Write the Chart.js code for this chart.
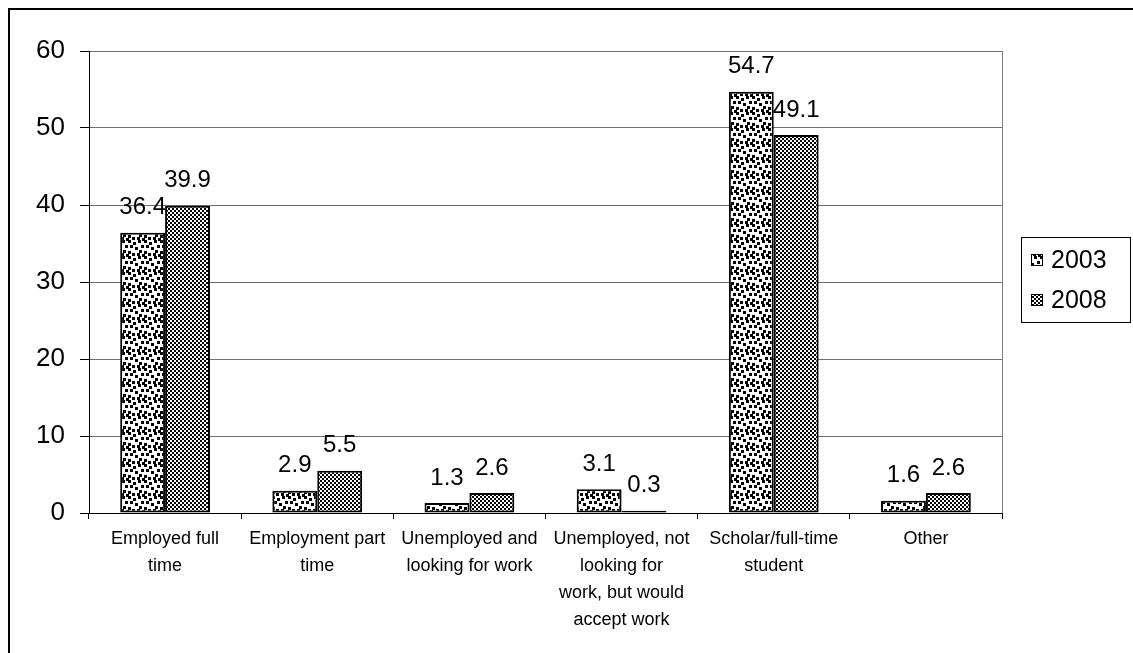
<!DOCTYPE html>
<html>
<head>
<meta charset="utf-8">
<script src="https://cdn.jsdelivr.net/npm/chart.js@4"></script>
<style>
  html, body { margin: 0; padding: 0; background: #fff; }
  #wrap { width: 1133px; height: 653px; position: relative; }
</style>
</head>
<body>
<div id="wrap"><canvas id="c" width="1133" height="653"></canvas></div>
<script>
// Activity status of respondents, percent
const categories = [
  ['Employed full', 'time'],
  ['Employment part', 'time'],
  ['Unemployed and', 'looking for work'],
  ['Unemployed, not', 'looking for', 'work, but would', 'accept work'],
  ['Scholar/full-time', 'student'],
  ['Other']
];
const seriesNames = ['2003', '2008'];
const values2003 = [36.4, 2.9, 1.3, 3.1, 54.7, 1.6];
const values2008 = [39.9, 5.5, 2.6, 0.3, 49.1, 2.6];
const yTicks = [0, 10, 20, 30, 40, 50, 60];

const FONT = '"Liberation Sans", Arial, sans-serif';

// Scattered-dot fill
function dotPattern() {
  const t = document.createElement('canvas');
  t.width = 16; t.height = 16;
  const g = t.getContext('2d');
  g.fillStyle = '#fff'; g.fillRect(0, 0, 16, 16);
  g.fillStyle = '#000';
  const dots = [[0,0],[5,2],[10,0],[13,5],[2,5],[7,7],[11,10],[0,11],[4,13],[9,13],[14,14]];
  dots.forEach(([x, y]) => {
    // draw each dot with wrap-around so the tile repeats seamlessly
    for (const ox of [0, -16])
      for (const oy of [0, -16])
        g.fillRect(x + ox, y + oy, 3, 3);
  });
  return g.createPattern(t, 'repeat');
}
// Small checkerboard fill
function checkPattern() {
  const t = document.createElement('canvas');
  t.width = 4; t.height = 4;
  const g = t.getContext('2d');
  g.fillStyle = '#fff'; g.fillRect(0, 0, 4, 4);
  g.fillStyle = '#000';
  g.fillRect(0, 0, 2, 2);
  g.fillRect(2, 2, 2, 2);
  return g.createPattern(t, 'repeat');
}

const fills = [dotPattern(), checkPattern()];

// Value labels above bars, plot frame, legend box and outer frame
const decorations = {
  id: 'decorations',
  afterDatasetsDraw(chart) {
    const ctx = chart.ctx;
    const a = chart.chartArea;
    ctx.save();
    // plot area right border
    ctx.strokeStyle = '#808080';
    ctx.lineWidth = 1;
    ctx.beginPath();
    ctx.moveTo(Math.round(a.right) + 0.5, a.top);
    ctx.lineTo(Math.round(a.right) + 0.5, a.bottom);
    ctx.stroke();
    // value labels
    ctx.fillStyle = '#000';
    ctx.font = '24px ' + FONT;
    ctx.textAlign = 'center';
    ctx.textBaseline = 'middle';
    chart.data.datasets.forEach((ds, i) => {
      chart.getDatasetMeta(i).data.forEach((bar, j) => {
        ctx.fillText(String(ds.data[j]), bar.x, bar.y - 25);
      });
    });
    // legend
    const lx = 1021, ly = 237, lw = 109, lh = 85;
    ctx.strokeStyle = '#000';
    ctx.lineWidth = 1;
    ctx.strokeRect(lx + 0.5, ly + 0.5, lw, lh);
    ctx.textAlign = 'left';
    ctx.font = '25px ' + FONT;
    chart.data.datasets.forEach((ds, i) => {
      const cy = 260 + i * 40;
      ctx.fillStyle = ds.backgroundColor;
      ctx.fillRect(1031, cy - 6, 12, 12);
      ctx.strokeStyle = '#000';
      ctx.strokeRect(1031.5, cy - 5.5, 11, 11);
      ctx.fillStyle = '#000';
      ctx.fillText(ds.label, 1051, cy + 1);
    });
    // outer frame
    ctx.lineWidth = 2;
    ctx.strokeRect(9, 9, 1200, 700);
    ctx.restore();
  }
};

new Chart(document.getElementById('c'), {
  type: 'bar',
  data: {
    labels: categories,
    datasets: [
      { label: seriesNames[0], data: values2003, backgroundColor: fills[0] },
      { label: seriesNames[1], data: values2008, backgroundColor: fills[1] }
    ]
  },
  options: {
    responsive: false,
    animation: false,
    devicePixelRatio: 1,
    layout: { padding: { left: 10, top: 51, right: 131, bottom: 0 } },
    datasets: {
      bar: {
        borderColor: '#000',
        borderWidth: 2,
        borderSkipped: false,
        categoryPercentage: 0.59,
        barPercentage: 1
      }
    },
    plugins: {
      legend: { display: false },
      tooltip: { enabled: false }
    },
    scales: {
      x: {
        afterFit(s) { s.height = 140; },
        grid: {
          display: true,
          drawOnChartArea: false,
          offset: true,
          tickLength: 6,
          color: '#000'
        },
        border: { color: '#000', width: 1 },
        ticks: {
          color: '#000',
          font: { family: FONT, size: 18, lineHeight: 1.5 },
          padding: 7,
          maxRotation: 0,
          autoSkip: false
        }
      },
      y: {
        min: 0,
        max: 60,
        afterFit(s) { s.width = 79; },
        afterBuildTicks(s) { s.ticks = yTicks.map(v => ({ value: v })); },
        grid: {
          color: '#6e6e6e',
          tickColor: '#000',
          tickLength: 9
        },
        border: { color: '#000', width: 1 },
        ticks: {
          color: '#000',
          font: { family: FONT, size: 26 },
          padding: 15
        }
      }
    }
  },
  plugins: [decorations]
});
</script>
</body>
</html>
